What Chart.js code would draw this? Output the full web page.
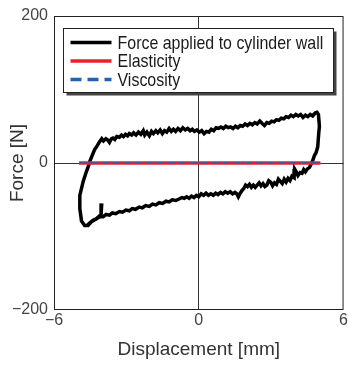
<!DOCTYPE html>
<html>
<head>
<meta charset="utf-8">
<script src="https://cdn.jsdelivr.net/npm/chart.js@4.4.1/dist/chart.umd.min.js"></script>
<style>
  html, body { margin: 0; padding: 0; background: #fff; }
  canvas { display: block; }
</style>
</head>
<body>
<canvas id="loopChart" width="349" height="365"></canvas>
<script>
// Force / displacement loop, in drawing order
const leftX = [-4.02, -4.05, -4.25, -4.45, -4.59, -4.73, -4.86, -4.93, -4.93, -4.79, -4.66, -4.55, -4.52, -4.42, -4.32, -4.20];
const leftY = [-55, -70, -76, -80, -85, -85, -79, -62, -44, -25, -12, -2, 2, 10, 18, 24];

const upperX = [
    -4.11, -4.02, -3.95, -3.85, -3.76, -3.70, -3.62, -3.56, -3.48, -3.40,
    -3.29, -3.20, -3.12, -3.04, -2.95, -2.88, -2.78, -2.70, -2.60, -2.50,
    -2.40, -2.30, -2.24, -2.15, -2.05, -1.96, -1.88, -1.78, -1.70, -1.60,
    -1.51, -1.42, -1.33, -1.23, -1.14, -1.05, -0.96, -0.86, -0.76, -0.66,
    -0.56, -0.46, -0.36, -0.27, -0.18, -0.08, 0.02, 0.12, 0.22, 0.32,
    0.42, 0.52, 0.62, 0.72, 0.82, 0.92, 1.02, 1.12, 1.22, 1.32,
    1.42, 1.52, 1.62, 1.72, 1.82, 1.92, 2.02, 2.12, 2.22, 2.32,
    2.42, 2.53, 2.62, 2.72, 2.82, 2.92, 3.02, 3.12, 3.22, 3.32,
    3.42, 3.52, 3.62, 3.72, 3.82, 3.92, 4.02, 4.12, 4.22, 4.32,
    4.42, 4.52, 4.62, 4.72, 4.82, 4.90, 4.96];
const upperY = [
    29, 33, 30, 33, 31, 28, 33, 34, 32, 36,
    35, 38, 36, 39, 37, 40, 38, 41, 38, 42,
    39, 44, 38, 42, 37, 43, 40, 44, 41, 45,
    40, 44, 42, 47, 43, 46, 43, 47, 44, 48,
    45, 47, 44, 46, 43, 45, 42, 44, 40, 43,
    42, 46, 44, 48, 47, 49, 47, 50, 48, 49,
    47, 50, 48, 51, 50, 53, 51, 54, 52, 55,
    53, 57, 54, 51, 55, 54, 57, 56, 59, 58,
    61, 60, 63, 62, 65, 63, 66, 64, 66, 62,
    65, 63, 66, 64, 68, 69, 66];

const rightX = [5.00, 4.97, 4.93, 4.86, 4.79, 4.73];
const rightY = [50, 40, 22, 14, 10, 4];

const lowerX = [
    4.66, 4.59, 4.50, 4.42, 4.35, 4.28, 4.20, 4.11, 4.04, 3.97,
    3.95, 3.86, 3.78, 3.70, 3.62, 3.54, 3.46, 3.38, 3.30, 3.22,
    3.14, 3.06, 2.98, 2.90, 2.82, 2.74, 2.66, 2.58, 2.50, 2.42,
    2.34, 2.26, 2.18, 2.10, 2.02, 1.94, 1.86, 1.78, 1.70, 1.64,
    1.58, 1.50, 1.40, 1.30, 1.20, 1.10, 1.00, 0.90, 0.80, 0.70,
    0.60, 0.50, 0.40, 0.30, 0.20, 0.10, 0, -0.10, -0.20, -0.30,
    -0.40, -0.50, -0.60, -0.70, -0.82, -0.95, -1.10, -1.23, -1.36, -1.50,
    -1.64, -1.78, -1.92, -2.05, -2.20, -2.34, -2.47, -2.62, -2.76, -2.88,
    -3.02, -3.16, -3.29, -3.44, -3.58, -3.70, -3.84, -3.96, -4.10, -4.25,
    -4.38, -4.50, -4.60];
const lowerY = [
    -1, -6, -8, -12, -9, -14, -13, -17, -12, -8,
    -20, -18, -24, -21, -26, -22, -28, -25, -22, -29,
    -27, -31, -26, -24, -30, -32, -28, -31, -27, -30,
    -33, -30, -33, -29, -32, -30, -35, -38, -42, -46,
    -42, -40, -42, -39, -41, -39, -42, -40, -43, -41,
    -44, -42, -44, -41, -44, -42, -46, -44, -47, -45,
    -48, -46, -48, -47, -49, -51, -50, -53, -52, -55,
    -54, -57, -56, -59, -58, -61, -60, -63, -62, -65,
    -64, -67, -66, -69, -68, -71, -70, -73, -73, -76,
    -78, -81, -84];

const forceX = [...leftX, ...upperX, ...rightX, ...lowerX];
const forceY = [...leftY, ...upperY, ...rightY, ...lowerY];

const elasticX = [-4.96, 5.04];
const elasticY = [0, 0];
const viscosityX = [-4.96, 5.04];
const viscosityY = [0, 0];

const xTicks = [-6, 0, 6];
const yTicks = [-200, 0, 200];

const FONT = "'Liberation Sans', Arial, Helvetica, sans-serif";

function toPoints(xs, ys) {
    return xs.map((x, i) => ({ x: x, y: ys[i] }));
}

function minusSign(v) {
    return String(v).replace('-', '\u2212');
}

// Frame round the plot area
const framePlugin = {
    id: 'frame',
    beforeDatasetsDraw(chart) {
        const { ctx, chartArea: a } = chart;
        ctx.save();
        ctx.strokeStyle = '#222';
        ctx.lineWidth = 1;
        ctx.strokeRect(a.left + 0.5, a.top + 0.5, a.right - a.left - 1, a.bottom - a.top - 1);
        ctx.restore();
    }
};

// Boxed legend with drop shadow, drawn inside the plot
const boxLegendPlugin = {
    id: 'boxLegend',
    afterDatasetsDraw(chart) {
        const { ctx, chartArea: a } = chart;
        const left = a.left + 9.5, top = a.top + 12.5;
        const w = 270, h = 64;
        ctx.save();
        ctx.fillStyle = '#444';
        ctx.fillRect(left + 3, top + 3, w, h);
        ctx.fillStyle = '#fff';
        ctx.fillRect(left, top, w, h);
        ctx.strokeStyle = '#222';
        ctx.lineWidth = 1;
        ctx.strokeRect(left, top, w, h);

        chart.data.datasets.forEach((ds, i) => {
            const y = top + 14 + i * 18.5;
            ctx.beginPath();
            ctx.strokeStyle = ds.borderColor;
            ctx.lineWidth = 3.5;
            ctx.setLineDash(ds.borderDash ? [11, 6] : []);
            ctx.moveTo(left + 7, y);
            ctx.lineTo(left + 48, y);
            ctx.stroke();
            ctx.setLineDash([]);

            // condensed lettering, as in the reference
            ctx.save();
            ctx.translate(left + 54, y + 1);
            ctx.scale(0.84, 1);
            ctx.font = '19px ' + FONT;
            ctx.textBaseline = 'middle';
            ctx.textAlign = 'left';
            ctx.fillStyle = '#1a1a1a';
            ctx.fillText(ds.label, 0, 0);
            ctx.restore();
        });
        ctx.restore();
    }
};

const ctx = document.getElementById('loopChart');

new Chart(ctx, {
    type: 'scatter',
    data: {
        datasets: [
            {
                label: 'Force applied to cylinder wall',
                data: toPoints(forceX, forceY),
                showLine: true,
                borderColor: '#000',
                borderWidth: 3.5,
                pointRadius: 0,
                tension: 0,
                order: 2
            },
            {
                label: 'Elasticity',
                data: toPoints(elasticX, elasticY),
                showLine: true,
                borderColor: '#e8202a',
                borderWidth: 3.5,
                pointRadius: 0,
                order: 1
            },
            {
                label: 'Viscosity',
                data: toPoints(viscosityX, viscosityY),
                showLine: true,
                borderColor: '#1f64b4',
                borderWidth: 1.5,
                borderDash: [8, 3],
                pointRadius: 0,
                order: 0
            }
        ]
    },
    options: {
        responsive: false,
        animation: false,
        layout: { padding: { top: 16, right: 3, left: 0, bottom: 0 } },
        plugins: {
            legend: { display: false },
            tooltip: { enabled: false }
        },
        scales: {
            x: {
                type: 'linear',
                min: xTicks[0],
                max: xTicks[xTicks.length - 1],
                afterBuildTicks: (scale) => { scale.ticks = xTicks.map(v => ({ value: v })); },
                afterFit: (scale) => { scale.height = 55; },
                ticks: {
                    padding: 1,
                    color: '#444',
                    font: { family: FONT, size: 16 },
                    callback: (v) => minusSign(v)
                },
                grid: {
                    drawTicks: false,
                    color: (c) => c.tick && c.tick.value === 0 ? '#333' : 'rgba(0,0,0,0)'
                },
                border: { display: false },
                title: {
                    display: true,
                    text: 'Displacement [mm]',
                    color: '#333',
                    font: { family: FONT, size: 19 },
                    padding: { top: 0, bottom: 4 }
                }
            },
            y: {
                type: 'linear',
                min: yTicks[0],
                max: yTicks[yTicks.length - 1],
                afterBuildTicks: (scale) => { scale.ticks = yTicks.map(v => ({ value: v })); },
                afterFit: (scale) => { scale.width = 54; },
                ticks: {
                    padding: 6,
                    color: '#444',
                    font: { family: FONT, size: 16 },
                    callback: (v) => minusSign(v)
                },
                grid: {
                    drawTicks: false,
                    color: (c) => c.tick && c.tick.value === 0 ? '#333' : 'rgba(0,0,0,0)'
                },
                border: { display: false },
                title: {
                    display: true,
                    text: 'Force [N]',
                    color: '#333',
                    font: { family: FONT, size: 19 },
                    padding: { top: 6, bottom: 0 }
                }
            }
        }
    },
    plugins: [framePlugin, boxLegendPlugin]
});
</script>
</body>
</html>
